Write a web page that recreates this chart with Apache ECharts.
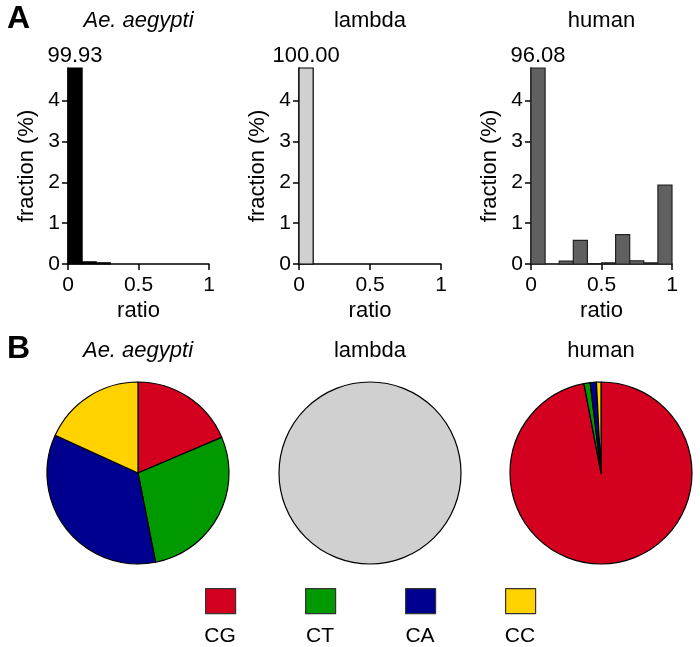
<!DOCTYPE html>
<html><head><meta charset="utf-8">
<script src="https://cdn.jsdelivr.net/npm/echarts@6/dist/echarts.min.js"></script>
<style>html,body{margin:0;padding:0;background:#fff}#c{width:700px;height:647px}</style>
</head><body><div id="c"></div>
<script>
// ---- data ----
const binStarts = [0, 0.1, 0.2, 0.3, 0.4, 0.5, 0.6, 0.7, 0.8, 0.9];
const binWidth = 0.1;
const aegyptiHist = [99.93, 0.05, 0.03, 0, 0, 0, 0, 0, 0, 0];
const lambdaHist = [100.00, 0, 0, 0, 0, 0, 0, 0, 0, 0];
const humanHist = [96.08, 0, 0.07, 0.58, 0.01, 0.03, 0.72, 0.08, 0.03, 1.93];
const yTicks = [0, 1, 2, 3, 4];
const xTicks = [0, 0.5, 1];
const dinucs = ['CG', 'CT', 'CA', 'CC'];
const aegyptiPie = [18.6, 28.3, 34.9, 18.2];
const humanPie = [97.0, 1.1, 1.1, 0.8];
const lambdaPie = [100];
const panelNames = ['Ae. aegypti', 'lambda', 'human'];

// ---- styles ----
const FONT = 'Liberation Sans, Arial, sans-serif';
const dinucColors = ['#d40020', '#009a00', '#00008f', '#ffd200'];
const histFill = ['#000000', '#d0d0d0', '#606060'];
const histStroke = ['#000000', '#000000', '#222222'];
const YMAX = 4.8;
const gridLefts = [68, 299, 531];
const gridWidths = [141, 142, 141];
const pieCenters = [138, 370, 601];

const histData = [aegyptiHist, lambdaHist, humanHist].map(arr =>
  arr.map((v, i) => [binStarts[i], binStarts[i] + binWidth, v]));

function makeRender(k) {
  return function (params, api) {
    const x0 = api.value(0), x1 = api.value(1), v = api.value(2);
    const children = [];
    if (v > 0) {
      const top = Math.min(v, YMAX);
      const p0 = api.coord([x0, top]);
      const p1 = api.coord([x1, 0]);
      children.push({
        type: 'rect',
        shape: { x: p0[0], y: p0[1], width: p1[0] - p0[0], height: p1[1] - p0[1] },
        style: { fill: histFill[k], stroke: histStroke[k], lineWidth: 1.2 }
      });
      if (v > YMAX) {
        children.push({
          type: 'text',
          style: {
            x: (p0[0] + p1[0]) / 2, y: p0[1] - 1,
            text: v.toFixed(2), fill: '#000', font: '22px ' + FONT,
            align: 'center', verticalAlign: 'bottom'
          }
        });
      }
    }
    return { type: 'group', children };
  };
}

const grids = [], xAxes = [], yAxes = [], series = [];
for (let k = 0; k < 3; k++) {
  grids.push({ left: gridLefts[k], width: gridWidths[k], top: 68, height: 196, containLabel: false });
  xAxes.push({
    type: 'value', gridIndex: k, min: 0, max: 1, interval: 0.5,
    name: 'ratio', nameLocation: 'middle', nameGap: 36,
    nameTextStyle: { fontSize: 22, color: '#000', fontFamily: FONT },
    axisLine: { lineStyle: { color: '#000', width: 1.5 } },
    axisTick: { show: true, length: 6, lineStyle: { color: '#000', width: 1.5 } },
    axisLabel: { fontSize: 21, color: '#000', fontFamily: FONT, margin: 11,
      formatter: v => String(v) },
    splitLine: { show: false }
  });
  yAxes.push({
    type: 'value', gridIndex: k, min: 0, max: YMAX,
    name: 'fraction (%)', nameLocation: 'middle', nameGap: 30,
    nameTextStyle: { fontSize: 22, color: '#000', fontFamily: FONT },
    axisLine: { show: true, lineStyle: { color: '#000', width: 1.5 } },
    axisTick: { show: true, length: 6, customValues: yTicks, lineStyle: { color: '#000', width: 1.5 } },
    axisLabel: { fontSize: 21, color: '#000', fontFamily: FONT, margin: 8, customValues: yTicks },
    splitLine: { show: false }
  });
  series.push({
    type: 'custom', xAxisIndex: k, yAxisIndex: k,
    renderItem: makeRender(k), data: histData[k], clip: false, z: 1
  });
}

const pieSets = [aegyptiPie, lambdaPie, humanPie];
for (let k = 0; k < 3; k++) {
  const data = k === 1
    ? [{ name: 'lambda', value: lambdaPie[0], itemStyle: { color: '#d0d0d0' } }]
    : pieSets[k].map((v, i) => ({ name: dinucs[i], value: v, itemStyle: { color: dinucColors[i] } }));
  series.push({
    type: 'pie', center: [pieCenters[k], 473], radius: 91, startAngle: 90, clockwise: true,
    label: { show: false }, labelLine: { show: false }, silent: true,
    itemStyle: { borderColor: '#000', borderWidth: 1.2 },
    emphasis: { disabled: true },
    data
  });
}

const titles = [];
for (let k = 0; k < 3; k++) {
  const cx = gridLefts[k] + gridWidths[k] / 2;
  const style = { fontSize: 22, fontWeight: 'normal', color: '#000', fontFamily: FONT,
    fontStyle: k === 0 ? 'italic' : 'normal' };
  titles.push({ text: panelNames[k], left: cx, top: 10, textAlign: 'center', textStyle: style, padding: 0 });
  titles.push({ text: panelNames[k], left: pieCenters[k], top: 340, textAlign: 'center', textStyle: style, padding: 0 });
}

const legendCenters = [220, 320, 420, 520];
const legends = dinucs.map((d, i) => ({
  data: [d], left: legendCenters[i] - 15, top: 588, itemWidth: 30, itemHeight: 25,
  icon: 'rect', formatter: () => '', selectedMode: false,
  itemStyle: { borderColor: '#333', borderWidth: 1.2 },
  padding: 0
}));

const graphics = [
  { type: 'text', left: 7, top: 3, style: { text: 'A', font: 'bold 32px ' + FONT, fill: '#000' } },
  { type: 'text', left: 7, top: 333, style: { text: 'B', font: 'bold 32px ' + FONT, fill: '#000' } }
];
dinucs.forEach((d, i) => graphics.push({
  type: 'text', x: legendCenters[i], y: 636,
  style: { text: d, font: '21px ' + FONT, fill: '#000', align: 'center', verticalAlign: 'middle' }
}));

const chart = echarts.init(document.getElementById('c'), null, { renderer: 'canvas' });
chart.setOption({
  animation: false,
  backgroundColor: '#fff',
  title: titles,
  grid: grids, xAxis: xAxes, yAxis: yAxes,
  legend: legends,
  graphic: graphics,
  series
});
</script></body></html>
